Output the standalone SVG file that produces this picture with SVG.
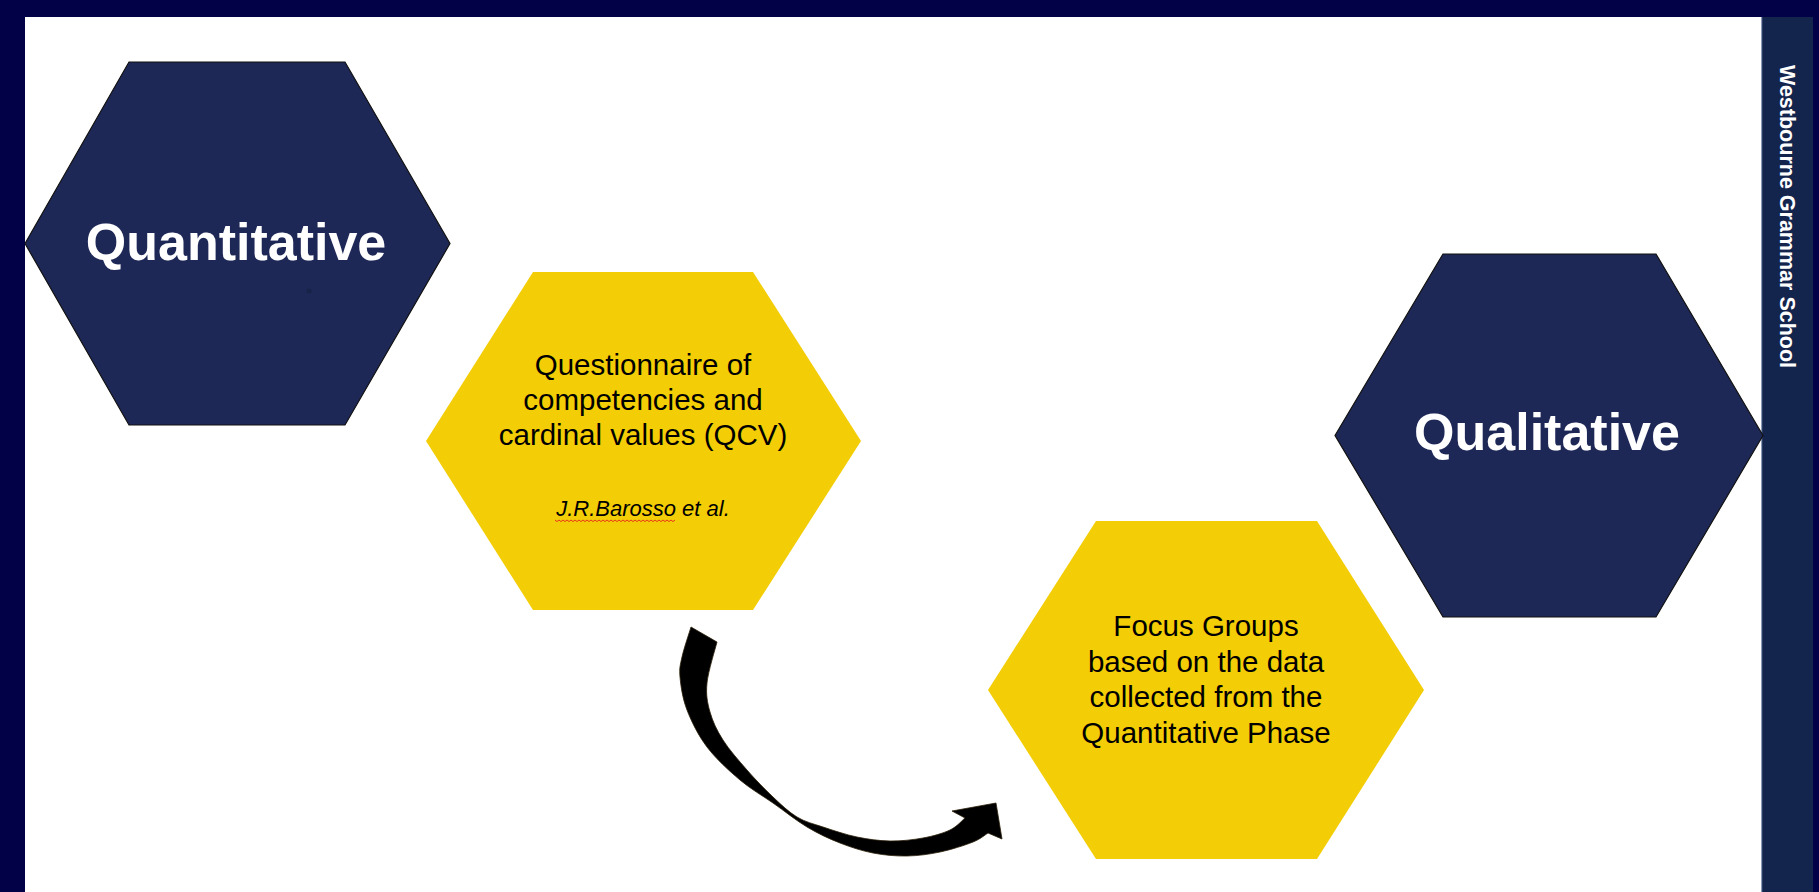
<svg xmlns="http://www.w3.org/2000/svg" width="1819" height="892" viewBox="0 0 1819 892">
<style>
.navy{fill:#1e2857;stroke:#111;stroke-width:1.2}
.yellow{fill:#f3cd05}
.big{font-family:"Liberation Sans",Arial,sans-serif;font-weight:bold;font-size:52px;fill:#ffffff;text-anchor:middle}
.body{font-family:"Liberation Sans",Arial,sans-serif;font-size:29.5px;fill:#000;text-anchor:middle}
.cite{font-family:"Liberation Sans",Arial,sans-serif;font-style:italic;font-size:22px;fill:#000;text-anchor:middle}
.side{font-family:"Liberation Sans",Arial,sans-serif;font-weight:bold;font-size:21.5px;fill:#ffffff}
</style>
<rect x="0" y="0" width="1819" height="892" fill="#020047"/>
<rect x="25" y="17" width="1736" height="875" fill="#ffffff"/>
<g id="sidebar">
<rect x="1761" y="17" width="52" height="875" fill="#13244d"/>
<rect x="1761" y="17" width="1.2" height="875" fill="#8a9ab8"/>
<text class="side" x="1780" y="65" transform="rotate(90 1780 65)">Westbourne Grammar School</text>
</g>
<g id="node-quantitative">
<polygon class="navy" points="25,243.5 129,62 345,62 450,243.5 345,425 129,425"/>
<circle cx="309" cy="291" r="2.5" fill="#172447"/>
<text class="big" x="236" y="260">Quantitative</text>
</g>
<g id="node-qcv">
<polygon class="yellow" points="426,441 533,272 753,272 861,441 753,610 533,610"/>
<text class="body" x="643" y="375">Questionnaire of</text>
<text class="body" x="643" y="410">competencies and</text>
<text class="body" x="643" y="445">cardinal values (QCV)</text>
<text class="cite" x="643" y="516">J.R.Barosso et al.</text>
<path d="M555,520 l2,1.6 l2,-1.6 l2,1.6 l2,-1.6 l2,1.6 l2,-1.6 l2,1.6 l2,-1.6 l2,1.6 l2,-1.6 l2,1.6 l2,-1.6 l2,1.6 l2,-1.6 l2,1.6 l2,-1.6 l2,1.6 l2,-1.6 l2,1.6 l2,-1.6 l2,1.6 l2,-1.6 l2,1.6 l2,-1.6 l2,1.6 l2,-1.6 l2,1.6 l2,-1.6 l2,1.6 l2,-1.6 l2,1.6 l2,-1.6 l2,1.6 l2,-1.6 l2,1.6 l2,-1.6 l2,1.6 l2,-1.6 l2,1.6 l2,-1.6 l2,1.6 l2,-1.6 l2,1.6 l2,-1.6 l2,1.6 l2,-1.6 l2,1.6 l2,-1.6 l2,1.6 l2,-1.6 l2,1.6 l2,-1.6 l2,1.6 l2,-1.6 l2,1.6 l2,-1.6 l2,1.6 l2,-1.6 l2,1.6 l2,-1.6" fill="none" stroke="#e8361a" stroke-width="1"/>
</g>
<g id="node-qualitative">
<polygon class="navy" points="1335,435.5 1443,254 1656,254 1763,435.5 1656,617 1443,617"/>
<text class="big" x="1547" y="450">Qualitative</text>
</g>
<g id="node-focus">
<polygon class="yellow" points="988,690 1096,521 1317,521 1424,690 1317,859 1096,859"/>
<text class="body" x="1206" y="636">Focus Groups</text>
<text class="body" x="1206" y="672">based on the data</text>
<text class="body" x="1206" y="707">collected from the</text>
<text class="body" x="1206" y="743">Quantitative Phase</text>
</g>
<g id="connectors">
<path d="M691,627 L717,642 C715.3,648.8 708.2,671.3 707,683 C705.8,694.7 707.3,702.5 710,712 C712.7,721.5 716.8,730.3 723,740 C729.2,749.7 738.7,760.5 747,770 C755.3,779.5 764.7,789.2 773,797 C781.3,804.8 788.7,812 797,817 C805.3,822 813,823.7 823,827 C833,830.3 845.8,834.7 857,837 C868.2,839.3 879,840.8 890,841 C901,841.2 913,839.8 923,838 C933,836.2 943,833.3 950,830 C957,826.7 962.5,820 965,818 L952,811 L996,803 L1002,839 L988,833 C985.5,834.5 981,838.8 973,842 C965,845.2 951,849.7 940,852 C929,854.3 918.2,855.8 907,856 C895.8,856.2 884.2,855.2 873,853 C861.8,850.8 851,847.3 840,843 C829,838.7 818.2,833.7 807,827 C795.8,820.3 784.2,810.8 773,803 C761.8,795.2 751,789.3 740,780 C729,770.7 715.8,758.7 707,747 C698.2,735.3 691.5,721.7 687,710 C682.5,698.3 680.8,685.8 680,677 C679.2,668.2 680.2,665.3 682,657 C683.8,648.7 689.5,632 691,627 Z" fill="#000" stroke="#2a1e08" stroke-width="0.8"/>
</g>
</svg>
